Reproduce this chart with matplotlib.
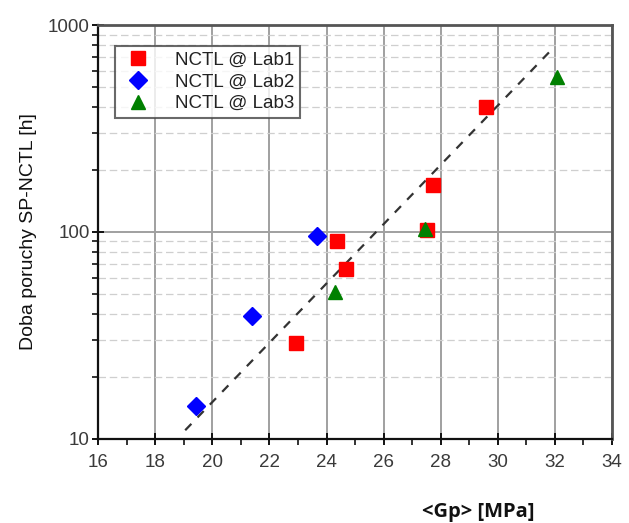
import numpy as np
import matplotlib
matplotlib.use('Agg')
import matplotlib.pyplot as plt
from matplotlib.ticker import FixedLocator, NullFormatter, LogLocator

plt.rcParams['font.family'] = ['Liberation Sans', 'DejaVu Sans']

# data
lab1_gp = [22.93, 24.37, 24.68, 27.52, 27.73, 29.59]
lab1_t = [29.0, 90.0, 66.0, 102.0, 169.0, 402.0]
lab2_gp = [19.43, 21.39, 23.67]
lab2_t = [14.4, 39.3, 95.5]
lab3_gp = [24.30, 27.45, 32.07]
lab3_t = [51.0, 103.0, 561.0]
# trend line ends
fit_gp = [19.05, 31.8]
fit_t = [11.0, 740.0]

x_ticks = [16, 18, 20, 22, 24, 26, 28, 30, 32, 34]
y_ticks = [10, 100, 1000]

fig = plt.figure(figsize=(6.29, 5.23), dpi=100)
ax = fig.add_axes([0.156, 0.161, 0.817, 0.791])

ax.set_yscale('log')
ax.set_xlim(16, 34)
ax.set_ylim(10, 1000)

# grid
ax.xaxis.set_major_locator(FixedLocator(x_ticks))
ax.xaxis.set_minor_locator(FixedLocator(np.arange(17, 34, 2)))
ax.yaxis.set_major_locator(FixedLocator(y_ticks))
ax.yaxis.set_minor_locator(LogLocator(base=10, subs=np.arange(2, 10)))
ax.yaxis.set_minor_formatter(NullFormatter())
ax.set_yticklabels([str(v) for v in y_ticks])
ax.grid(True, which='major', axis='both', color='#a0a0a0', linewidth=1.4, linestyle='-')
ax.grid(True, which='minor', axis='y', color='#cfcfcf', linewidth=0.9, linestyle=(0, (6, 3)))
ax.set_axisbelow(True)

# fit line
ax.plot(fit_gp, fit_t, color='#333333', linestyle=(0, (4, 4)), linewidth=1.6, zorder=3)

# data
ax.plot(lab1_gp, lab1_t, 's', color='#ff0000', markersize=9.5, linestyle='none', label='NCTL @ Lab1', zorder=4)
ax.plot(lab2_gp, lab2_t, 'D', color='#0000ff', markersize=9.5, linestyle='none', label='NCTL @ Lab2', zorder=4)
ax.plot(lab3_gp, lab3_t, '^', color='#008000', markersize=10.5, linestyle='none', label='NCTL @ Lab3', zorder=5)

# spines and ticks
for side in ['left', 'bottom']:
    ax.spines[side].set_color('#111111')
    ax.spines[side].set_linewidth(1.6)
for side in ['top', 'right']:
    ax.spines[side].set_color('#555555')
    ax.spines[side].set_linewidth(2.0)
ax.tick_params(axis='both', which='major', direction='inout', length=8, width=1.4,
               labelsize=13.5, labelcolor='#3a3a3a', color='#111111')
ax.tick_params(axis='both', which='minor', direction='out', length=4, width=1.2, color='#111111')
ax.tick_params(axis='x', which='major', pad=7)
ax.tick_params(axis='y', which='major', pad=2)

ax.set_ylabel('Doba poruchy SP-NCTL [h]', fontsize=14, color='#111111', labelpad=8)
fig.text(0.76, 0.021, '<Gp> [MPa]', fontsize=14.5, fontweight='bold', ha='center', va='center',
         family=['Open Sans', 'DejaVu Sans'], color='#111111')

leg = ax.legend(loc='upper left', bbox_to_anchor=(0.033, 0.95), fontsize=13.5, frameon=True,
                fancybox=False, edgecolor='#444444', borderpad=0.3, labelspacing=0.25,
                handletextpad=1.1, handlelength=1.8, borderaxespad=0)
leg.get_frame().set_linewidth(1.5)
for t in leg.get_texts():
    t.set_color('#222222')

fig.savefig('out.png', dpi=100)
